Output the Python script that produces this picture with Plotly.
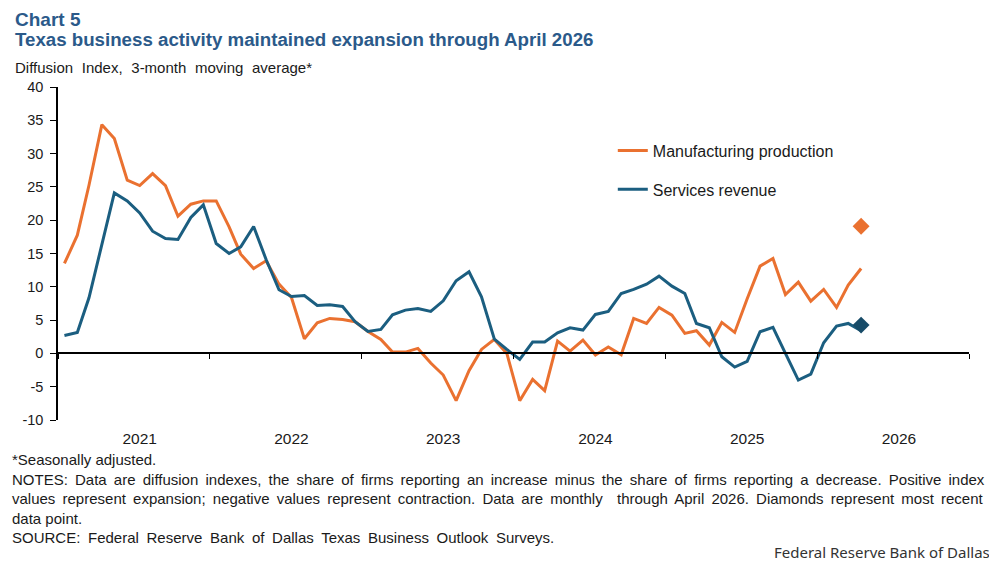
import pandas as pd
import plotly.graph_objects as go

# monthly, 3-month moving average, Jan 2021 - Apr 2026
months = pd.date_range("2021-01-01", "2026-04-01", freq="MS")

manufacturing = [
    13.5, 17.75, 25.25, 34.35, 32.25, 26.0, 25.2, 27.0, 25.2, 20.6, 22.4, 22.9,
    22.9, 19.0, 14.9, 12.75, 13.9, 10.4, 8.4, 2.2, 4.6, 5.25, 5.1, 4.75,
    3.3, 2.1, 0.2, 0.2, 0.75, -1.45, -3.25, -7.1, -2.6, 0.6, 2.1, 0.0,
    -7.1, -3.9, -5.6, 1.85, 0.35, 2.0, -0.25, 0.95, -0.2, 5.25, 4.5, 6.9,
    5.75, 3.0, 3.4, 1.25, 4.65, 3.15, 8.2, 13.1, 14.25, 8.85, 10.7, 7.85,
    9.6, 6.9, 10.25, 12.75,
]

services = [
    2.7, 3.15, 8.35, 16.5, 24.1, 22.9, 21.1, 18.35, 17.25, 17.1, 20.4, 22.3,
    16.5, 15.0, 16.0, 19.05, 14.1, 9.55, 8.55, 8.7, 7.2, 7.3, 7.05, 4.75,
    3.3, 3.6, 5.8, 6.5, 6.75, 6.3, 7.9, 10.9, 12.25, 8.5, 2.15, 0.6,
    -0.9, 1.7, 1.7, 3.1, 3.85, 3.5, 5.85, 6.3, 9.0, 9.6, 10.4, 11.6,
    10.1, 9.0, 4.5, 3.85, -0.5, -2.05, -1.2, 3.25, 3.9, 0.0, -4.0, -3.1,
    1.6, 4.1, 4.5, 3.4,
]

# most recent data point (diamonds)
latest_mfg = 19.1
latest_svc = 4.25

year_labels = ["2021", "2022", "2023", "2024", "2025", "2026"]
year_mid = [y + "-07-01" for y in year_labels]
year_edge = [str(int(y) - 1) + "-12-16 12:00" for y in year_labels] + ["2026-12-16 12:00"]

y_ticks = list(range(-10, 45, 5))
y_text = [str(v) for v in y_ticks]   # plain hyphen, not unicode minus

orange = "#EA7130"
blue = "#1B5E80"
blue_dark = "#174B68"
txt = "#1a1a1a"
font = "Arial, Liberation Sans, sans-serif"

fig = go.Figure()
fig.add_trace(go.Scatter(x=months, y=manufacturing, mode="lines", name="Manufacturing production",
                         line=dict(color=orange, width=3), legendgroup="a"))
# services sit on the overlaid axis (the one drawn along zero) so that axis gets rendered
fig.add_trace(go.Scatter(x=months, y=services, mode="lines", name="Services revenue",
                         line=dict(color=blue, width=3), legendgroup="b", xaxis="x2"))
fig.add_trace(go.Scatter(x=[months[-1]], y=[latest_mfg], mode="markers", showlegend=False,
                         marker=dict(symbol="diamond", size=13, color=orange), xaxis="x2"))
fig.add_trace(go.Scatter(x=[months[-1]], y=[latest_svc], mode="markers", showlegend=False,
                         marker=dict(symbol="diamond", size=13, color=blue_dark), xaxis="x2"))

xr = ["2020-12-16 12:00", "2026-12-16 12:00"]

# page body has an 8px margin, so the figure is 8px smaller each way
fig.update_layout(
    width=989, height=557,
    margin=dict(l=50, r=28, t=79, b=145),
    paper_bgcolor="white", plot_bgcolor="white",
    font=dict(family=font, size=14, color=txt),
    xaxis=dict(range=xr, tickvals=year_mid, ticktext=year_labels, ticks="outside", ticklen=4,
               tickcolor="rgba(0,0,0,0)", showline=False, showgrid=False, zeroline=False,
               tickfont=dict(size=15.5)),
    xaxis2=dict(range=xr, overlaying="x", matches="x", anchor="free", position=0.2,
                showline=True, linecolor="black", linewidth=1.5, ticks="outside", ticklen=5,
                tickcolor="black", tickwidth=1.2, tickvals=year_edge, showticklabels=False,
                showgrid=False, zeroline=False),
    yaxis=dict(range=[-10, 40], tickvals=y_ticks, ticktext=y_text, showline=True,
               linecolor="black", linewidth=1.5, ticks="outside", ticklen=6, tickcolor="black",
               tickwidth=1.2, ticklabelstandoff=4, showgrid=False, zeroline=False,
               tickfont=dict(size=14.5)),
    legend=dict(x=0.609, y=0.86, xanchor="left", yanchor="top", bgcolor="rgba(0,0,0,0)",
                font=dict(size=16), tracegroupgap=15, itemwidth=30),
    showlegend=True,
)

ws = '<span style="word-spacing:%spx">%s</span>'
notes = "<br>".join([
    "*Seasonally adjusted.",
    ws % (3, "NOTES: Data are diffusion indexes, the share of firms reporting an increase minus the share of firms reporting a decrease. Positive index"),
    ws % (3, "values represent expansion; negative values represent contraction. Data are monthly&nbsp; through April 2026. Diamonds represent most recent"),
    "data point.",
    ws % (3.5, "SOURCE: Federal Reserve Bank of Dallas Texas Business Outlook Surveys."),
])

fig.add_annotation(x=-0.0494, y=1.2042, xref="paper", yref="paper", xanchor="left", yanchor="middle",
                   text="<b>Chart 5</b>", showarrow=False, font=dict(size=19, color="#2B5A8A"))
fig.add_annotation(x=-0.0494, y=1.1441, xref="paper", yref="paper", xanchor="left", yanchor="middle",
                   text="<b>Texas business activity maintained expansion through April 2026</b>",
                   showarrow=False, font=dict(size=18.7, color="#2B5A8A"))
fig.add_annotation(x=-0.0494, y=1.0571, xref="paper", yref="paper", xanchor="left", yanchor="middle",
                   text=ws % (4.5, "Diffusion Index, 3-month moving average*"), showarrow=False,
                   font=dict(size=15))
fig.add_annotation(x=-0.0527, y=-0.087, xref="paper", yref="paper", xanchor="left", yanchor="top",
                   text=notes, align="left", showarrow=False, font=dict(size=15))
fig.add_annotation(x=1.0253, y=-0.3964, xref="paper", yref="paper", xanchor="right", yanchor="middle",
                   text="Federal Reserve Bank of Dallas", showarrow=False,
                   font=dict(family="Noto Sans", size=15, color="#333"))

fig.write_html("out.html")
